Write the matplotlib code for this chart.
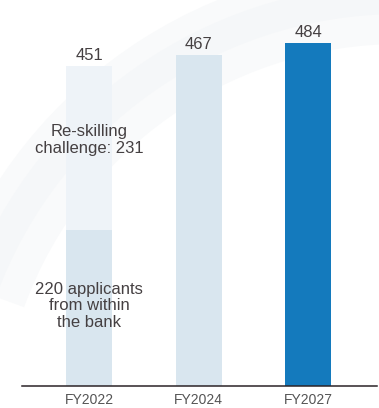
import matplotlib
matplotlib.use("Agg")
import matplotlib.pyplot as plt
from matplotlib.patches import Wedge

# Headcount need by fiscal year
categories = ["FY2022", "FY2024", "FY2027"]
totals = [451, 467, 484]
internal_applicants = 220
reskilling_gap = 231

plt.rcParams["font.family"] = ["Liberation Sans", "DejaVu Sans"]

W, H = 379, 408
fig = plt.figure(figsize=(W / 100, H / 100), dpi=100)
fig.patch.set_facecolor("white")

# soft decorative sweep in the background, on its own axes in pixel units
bg = fig.add_axes([0, 0, 1, 1], zorder=-10)
bg.set_xlim(0, W)
bg.set_ylim(H, 0)
bg.axis("off")
for r0, r1, c in [(400, 480, "#f9fafb"), (430, 460, "#f5f7f9")]:
    bg.add_patch(Wedge((400, 444), r1, 200, 275, width=r1 - r0,
                       facecolor=c, edgecolor="none"))

# axes placed in pixel terms: baseline at y=386, spanning x 21.7..376.7
left, right, base = 21.7, 376.7, 386
ax = fig.add_axes([left / W, (H - base) / H, (right - left) / W, base / H])
ax.set_facecolor("none")

x = list(range(len(categories)))
bar_w = 0.42
ax.set_xlim(-0.615, 2.627)
ax.set_ylim(0, base / 0.709)

light = "#d9e6ef"
pale = "#eef3f8"
dark = "#147abd"

# FY2022 split into internal applicants and re-skilling challenge
ax.bar(x[0], internal_applicants, width=bar_w, color=light, linewidth=0)
ax.bar(x[0], reskilling_gap, bottom=internal_applicants, width=bar_w,
       color=pale, linewidth=0)
ax.bar(x[1], totals[1], width=bar_w, color=light, linewidth=0)
ax.bar(x[2], totals[2], width=bar_w, color=dark, linewidth=0)

txt = "#454042"
for xi, v in zip(x, totals):
    ax.annotate(f"{v}", (xi, v), xytext=(0, 4.3), textcoords="offset points",
                ha="center", va="baseline", fontsize=12, color=txt)

ax.text(x[0], internal_applicants + reskilling_gap * 0.55,
        "Re-skilling\nchallenge: 231", ha="center", va="center",
        fontsize=12, color=txt, linespacing=1.15)
ax.text(x[0], 113, "220 applicants\nfrom within\nthe bank",
        ha="center", va="center", fontsize=12, color=txt, linespacing=1.15)

for s in ["top", "right", "left"]:
    ax.spines[s].set_visible(False)
ax.spines["bottom"].set_color("#2b2327")
ax.spines["bottom"].set_linewidth(1.1)
ax.set_yticks([])
ax.set_xticks(x)
ax.set_xticklabels(categories, fontsize=10, color="#555555")
ax.tick_params(axis="x", length=0, pad=5)

fig.savefig("out.png", dpi=100)
